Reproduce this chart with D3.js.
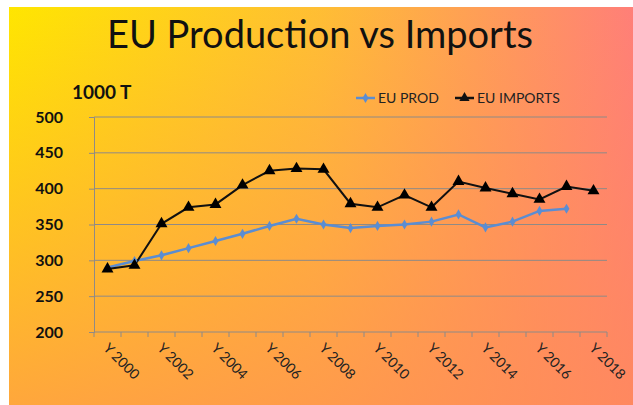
<!DOCTYPE html>
<html>
<head>
<meta charset="utf-8">
<script src="https://cdn.jsdelivr.net/npm/d3@7"></script>
<style>
  body { margin: 0; background: #fff; }
  svg { display: block; }
</style>
</head>
<body>
<script>
// values (1000 t)
const years = d3.range(2000, 2019).map(y => "Y " + y);
const prod = [290, 299, 307, 317, 327, 337, 348, 358, 350, 345, 348, 350, 354, 364, 346, 354, 369, 372, null];
const imports = [288, 293, 351, 374, 378, 405, 425, 428, 427, 379, 374, 391, 374, 410, 401, 393, 385, 403, 397];
const yTicks = [200, 250, 300, 350, 400, 450, 500];

const width = 633;
const height = 405;
const margin = {top: 117, right: 26, bottom: 73, left: 94};

const svg = d3.select("body").append("svg")
  .attr("width", width)
  .attr("height", height);

const defs = svg.append("defs");
const bg = defs.append("linearGradient")
  .attr("id", "bg")
  .attr("x1", 0).attr("y1", 0).attr("x2", 1).attr("y2", 0);
bg.append("stop").attr("offset", "0%").attr("stop-color", "#ffe600");
bg.append("stop").attr("offset", "50%").attr("stop-color", "#ffbe34");
bg.append("stop").attr("offset", "100%").attr("stop-color", "#ff7f78");

const shade = defs.append("linearGradient")
  .attr("id", "shade")
  .attr("x1", 0).attr("y1", 0).attr("x2", 0).attr("y2", 1);
shade.append("stop").attr("offset", "0%").attr("stop-color", "#ff8c55").attr("stop-opacity", 0);
shade.append("stop").attr("offset", "100%").attr("stop-color", "#ff8c55").attr("stop-opacity", 0.7);

svg.append("rect")
  .attr("x", 9).attr("y", 7)
  .attr("width", width - 9).attr("height", height - 7)
  .attr("fill", "url(#bg)");
svg.append("rect")
  .attr("x", 9).attr("y", 7)
  .attr("width", width - 9).attr("height", height - 7)
  .attr("fill", "url(#shade)");

const font = "Lato, 'Open Sans', sans-serif";

const x = d3.scaleBand()
  .domain(years)
  .range([margin.left, width - margin.right]);

const y = d3.scaleLinear()
  .domain([200, 500])
  .range([height - margin.bottom, margin.top]);

// gridlines
svg.append("g")
  .selectAll("line")
  .data(yTicks.slice(1))
  .join("line")
  .attr("x1", margin.left)
  .attr("x2", width - margin.right)
  .attr("y1", d => y(d))
  .attr("y2", d => y(d))
  .attr("stroke", "#8f8a86")
  .attr("stroke-width", 1);

// y axis
const yAxis = svg.append("g")
  .attr("transform", `translate(${margin.left},0)`)
  .call(d3.axisLeft(y).tickValues(yTicks).tickSize(5).tickPadding(26));
yAxis.select(".domain").attr("stroke", "#8f8a86");
yAxis.selectAll(".tick line").attr("stroke", "#8f8a86");
yAxis.selectAll("text")
  .attr("fill", "#111")
  .style("font-family", font)
  .style("font-size", "16px")
  .style("font-weight", "bold");

// x axis, ticks between categories
const xAxisG = svg.append("g")
  .attr("transform", `translate(0,${y(200)})`);
xAxisG.append("line")
  .attr("x1", margin.left).attr("x2", width - margin.right)
  .attr("stroke", "#8f8a86");
xAxisG.selectAll(".tk")
  .data(years.concat(["end"]))
  .join("line")
  .attr("class", "tk")
  .attr("x1", (d, i) => margin.left + i * x.step())
  .attr("x2", (d, i) => margin.left + i * x.step())
  .attr("y1", 0).attr("y2", 5)
  .attr("stroke", "#8f8a86");
xAxisG.selectAll(".lbl")
  .data(years.filter((d, i) => i % 2 === 0))
  .join("text")
  .attr("class", "lbl")
  .attr("transform", d => `translate(${x(d) + x.bandwidth() / 2 - 5},${17}) rotate(45)`)
  .attr("fill", "#222")
  .style("font-family", font)
  .style("font-size", "14px")
  .text(d => d);

// lines
const cx = (d, i) => x(years[i]) + x.bandwidth() / 2;
const line = d3.line()
  .defined(d => d != null)
  .x(cx)
  .y(d => y(d));

svg.append("path")
  .attr("d", line(prod))
  .attr("fill", "none")
  .attr("stroke", "#5b8dd2")
  .attr("stroke-width", 2.5);

svg.append("path")
  .attr("d", line(imports))
  .attr("fill", "none")
  .attr("stroke", "#111")
  .attr("stroke-width", 2);

svg.append("g")
  .selectAll("path")
  .data(prod.map((d, i) => [d, i]).filter(d => d[0] != null))
  .join("path")
  .attr("transform", d => `translate(${cx(null, d[1])},${y(d[0])})`)
  .attr("d", d3.symbol(d3.symbolDiamond, 30)())
  .attr("fill", "#5b8dd2");

svg.append("g")
  .selectAll("path")
  .data(imports)
  .join("path")
  .attr("transform", (d, i) => `translate(${cx(d, i)},${y(d)})`)
  .attr("d", d3.symbol(d3.symbolTriangle, 62)())
  .attr("fill", "#000");

// title
svg.append("text")
  .attr("x", 320)
  .attr("y", 48)
  .attr("text-anchor", "middle")
  .attr("fill", "#111")
  .style("font-family", font)
  .style("font-size", "38px")
  .text("EU Production vs Imports");

svg.append("text")
  .attr("x", 72)
  .attr("y", 99)
  .attr("fill", "#111")
  .style("font-family", font)
  .style("font-size", "19px")
  .style("font-weight", "bold")
  .text("1000 T");

// legend
const legend = svg.append("g").style("font-family", font).style("font-size", "14px");
const items = [
  {name: "EU PROD", color: "#5b8dd2", sym: d3.symbolDiamond, size: 30, x: 356},
  {name: "EU IMPORTS", color: "#111", sym: d3.symbolTriangle, size: 45, x: 455}
];
items.forEach(it => {
  legend.append("line")
    .attr("x1", it.x).attr("x2", it.x + 19)
    .attr("y1", 98).attr("y2", 98)
    .attr("stroke", it.color).attr("stroke-width", 2.5);
  legend.append("path")
    .attr("transform", `translate(${it.x + 9.5},98)`)
    .attr("d", d3.symbol(it.sym, it.size)())
    .attr("fill", it.color);
  legend.append("text")
    .attr("x", it.x + 22)
    .attr("y", 103)
    .attr("fill", "#222")
    .text(it.name);
});
</script>
</body>
</html>
